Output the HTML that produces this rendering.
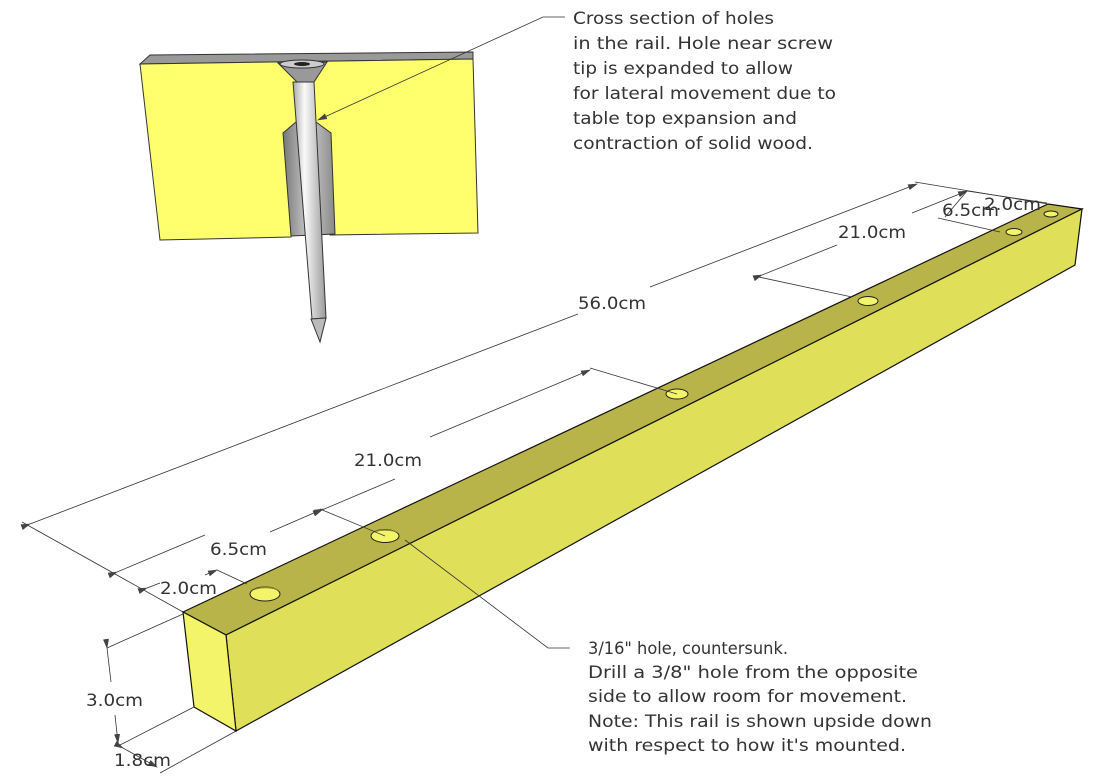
<!DOCTYPE html>
<html><head><meta charset="utf-8"><style>
html,body{margin:0;padding:0;background:#fff;}
svg{display:block;}
text{font-family:"DejaVu Sans","Liberation Sans",sans-serif;font-size:17px;fill:#333;}
</style></head><body>
<svg width="1108" height="779" viewBox="0 0 1108 779" xmlns="http://www.w3.org/2000/svg">
<defs>
<marker id="a" markerWidth="10" markerHeight="8" refX="9" refY="4" orient="auto" markerUnits="userSpaceOnUse">
<path d="M0,1 L10,4 L0,7 z" fill="#444"/></marker>
<linearGradient id="sh" x1="0" x2="1"><stop offset="0" stop-color="#aaa"/><stop offset=".35" stop-color="#fafafa"/><stop offset="1" stop-color="#999"/></linearGradient>
<linearGradient id="hl" x1="0" x2="1"><stop offset="0" stop-color="#777"/><stop offset=".5" stop-color="#ccc"/><stop offset="1" stop-color="#888"/></linearGradient>
</defs>

<!-- cross section -->
<polygon points="140,64 150,55 473,52 473,59" fill="#999" stroke="#333" stroke-width="1"/>
<polygon points="140,64 473,59 478,233 330,235 328,200 297,200 291,237 160,240" fill="#ffff6e" stroke="#333" stroke-width="1"/>
<polygon points="283,133 296,122 316,122 331,133 335,234 291,236" fill="url(#hl)" stroke="#333" stroke-width="1"/>
<polygon points="278,63 327,62 314,82 297,82" fill="#999" stroke="#333"/>
<ellipse cx="302" cy="64" rx="22" ry="4" fill="#ccc" stroke="#333"/>
<ellipse cx="302" cy="64" rx="8" ry="2" fill="#222"/>
<polygon points="293,82 314,82 326,318 312,319" fill="url(#sh)" stroke="#333" stroke-width="1"/>
<polygon points="311,319 326,318 320,342" fill="#bbb" stroke="#333"/>

<!-- rail -->
<polygon points="183,612 1048,204 1082,209 226,635" fill="#b8b44a" stroke="#111" stroke-width="1.2"/>
<polygon points="226,635 1082,209 1075,265 236,731" fill="#dfdf5a" stroke="#111" stroke-width="1.2"/>
<polygon points="183,612 226,635 236,731 194,707" fill="#f4f46a" stroke="#111" stroke-width="1.2"/>
<g fill="#f4f46a" stroke="#222" stroke-width="1">
<ellipse cx="265" cy="594" rx="15" ry="7"/>
<ellipse cx="385" cy="536" rx="14" ry="6.5"/>
<ellipse cx="677" cy="394" rx="11" ry="5"/>
<ellipse cx="868" cy="301" rx="10" ry="4.5"/>
<ellipse cx="1014" cy="232" rx="8" ry="3.5"/>
<ellipse cx="1051" cy="214" rx="7" ry="3"/>
</g>
<g fill="#8a8630">
<path d="M251,592 a15,7 0 0 1 29,0 a15,5 0 0 0 -29,0z"/>
<path d="M372,534 a14,6.5 0 0 1 27,0 a14,4.5 0 0 0 -27,0z"/>
</g>

<!-- dimension lines -->
<g stroke="#333" stroke-width="0.8" fill="none">
<line x1="22" y1="522" x2="183" y2="612"/>
<line x1="1048" y1="204" x2="915" y2="182"/>
<line x1="30" y1="524" x2="578" y2="314" marker-start="url(#a)"/>
<line x1="650" y1="287" x2="917" y2="184" marker-end="url(#a)"/>
<line x1="385" y1="536" x2="320" y2="509"/>
<line x1="677" y1="394" x2="590" y2="368"/>
<line x1="322" y1="510" x2="395" y2="479" marker-start="url(#a)"/>
<line x1="430" y1="437" x2="590" y2="370" marker-end="url(#a)"/>
<line x1="117" y1="572" x2="205" y2="535" marker-start="url(#a)"/>
<line x1="270" y1="532" x2="323" y2="509" marker-end="url(#a)"/>
<line x1="247" y1="584" x2="217" y2="570"/>
<line x1="147" y1="588" x2="160" y2="583" marker-start="url(#a)"/>
<line x1="205" y1="575" x2="217" y2="570" marker-end="url(#a)"/>
<line x1="107" y1="648" x2="183" y2="614"/>
<line x1="120" y1="745" x2="194" y2="707"/>
<line x1="107" y1="648" x2="111" y2="682" marker-start="url(#a)"/>
<line x1="115" y1="715" x2="118" y2="743" marker-end="url(#a)"/>
<line x1="160" y1="773" x2="236" y2="731"/>
<line x1="123" y1="748" x2="157" y2="767" marker-start="url(#a)" marker-end="url(#a)"/>
<line x1="852" y1="297" x2="754" y2="276"/>
<line x1="762" y1="275" x2="837" y2="245" marker-start="url(#a)"/>
<line x1="912" y1="213" x2="967" y2="191" marker-end="url(#a)"/>
<line x1="1000" y1="232" x2="938" y2="218"/>
<line x1="945" y1="217" x2="967" y2="191"/>
<line x1="967" y1="191" x2="1047" y2="203"/>
<!-- leaders -->
<polyline points="565,17 543,17 318,120" marker-end="url(#a)"/>
<polyline points="570,648 548,648 405,540"/>
</g>

<!-- dimension text -->
<g>
<text x="578" y="309" textLength="68" lengthAdjust="spacingAndGlyphs">56.0cm</text>
<text x="354" y="466" textLength="68" lengthAdjust="spacingAndGlyphs">21.0cm</text>
<text x="210" y="555" textLength="57" lengthAdjust="spacingAndGlyphs">6.5cm</text>
<text x="160" y="594" textLength="57" lengthAdjust="spacingAndGlyphs">2.0cm</text>
<text x="86" y="706" textLength="57" lengthAdjust="spacingAndGlyphs">3.0cm</text>
<text x="114" y="766" textLength="57" lengthAdjust="spacingAndGlyphs">1.8cm</text>
<text x="838" y="238" textLength="68" lengthAdjust="spacingAndGlyphs">21.0cm</text>
<text x="942" y="216" textLength="57" lengthAdjust="spacingAndGlyphs">6.5cm</text>
<text x="984" y="210" textLength="57" lengthAdjust="spacingAndGlyphs">2.0cm</text>
</g>

<!-- annotations -->
<g>
<text x="573" y="24" textLength="201" lengthAdjust="spacingAndGlyphs">Cross section of holes</text>
<text x="573" y="49" textLength="260" lengthAdjust="spacingAndGlyphs">in the rail.  Hole near screw</text>
<text x="573" y="74" textLength="220" lengthAdjust="spacingAndGlyphs">tip is expanded to allow</text>
<text x="573" y="99" textLength="263" lengthAdjust="spacingAndGlyphs">for lateral movement due to</text>
<text x="573" y="124" textLength="224" lengthAdjust="spacingAndGlyphs">table top expansion and</text>
<text x="573" y="149" textLength="240" lengthAdjust="spacingAndGlyphs">contraction of solid wood.</text>

<text x="588" y="654" textLength="200" lengthAdjust="spacingAndGlyphs">3/16" hole, countersunk.</text>
<text x="588" y="678" textLength="330" lengthAdjust="spacingAndGlyphs">Drill a 3/8" hole from the opposite</text>
<text x="588" y="702" textLength="319" lengthAdjust="spacingAndGlyphs">side to allow room for movement.</text>
<text x="588" y="727" textLength="344" lengthAdjust="spacingAndGlyphs">Note: This rail is shown upside down</text>
<text x="588" y="751" textLength="318" lengthAdjust="spacingAndGlyphs">with respect to how it's mounted.</text>
</g>
</svg>
</body></html>
